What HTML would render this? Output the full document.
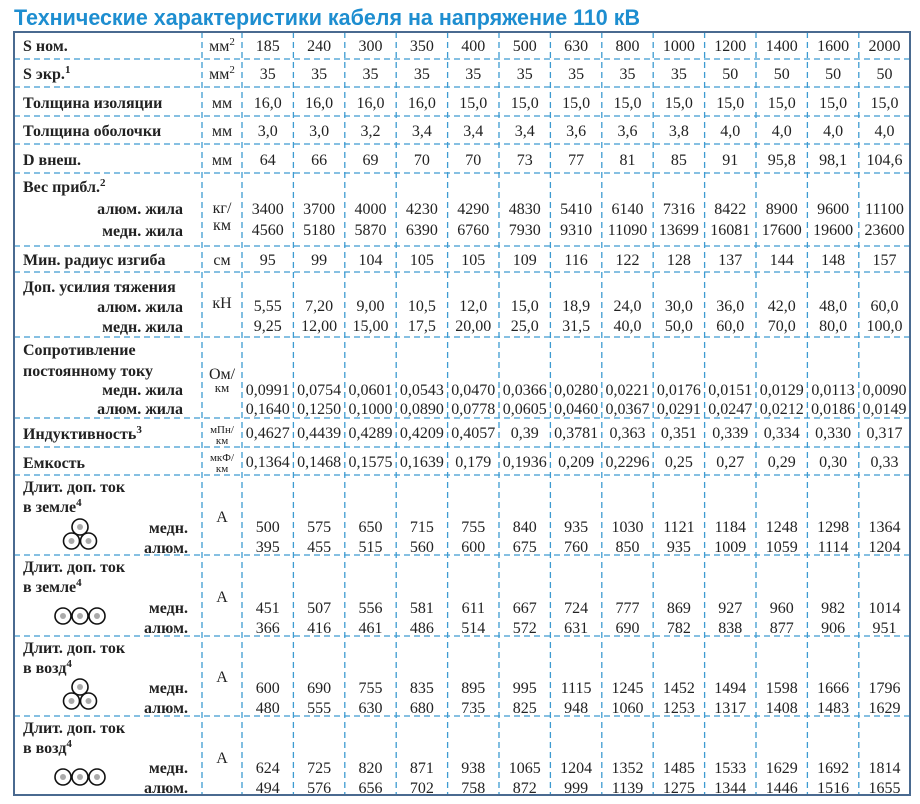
<!DOCTYPE html>
<html><head><meta charset="utf-8"><style>
html,body{margin:0;padding:0;background:#fff}
svg{display:block}
.t{font-family:"Liberation Serif",serif;font-size:16px;fill:#222}
.b{font-weight:bold}
.v tspan{text-anchor:middle}
.s{font-size:11px}
</style></head><body>
<svg width="920" height="804" viewBox="0 0 920 804" xmlns="http://www.w3.org/2000/svg">
<text x="14" y="25" font-family="Liberation Sans, sans-serif" font-weight="bold" font-size="22" fill="#1e8ed0" textLength="626" lengthAdjust="spacingAndGlyphs">Технические характеристики кабеля на напряжение 110 кВ</text>
<g stroke="#3d9bd1" stroke-width="1.3" stroke-dasharray="6 4" fill="none">
<path d="M202 32V795M242 32V795M293.4 32V795M344.8 32V795M396.2 32V795M447.6 32V795M499 32V795M550.4 32V795M601.8 32V795M653.2 32V795M704.6 32V795M756 32V795M807.4 32V795M858.8 32V795"/>
<path d="M14 59H910M14 87H910M14 116H910M14 144H910M14 173H910M14 246H910M14 272H910M14 337H910M14 418H910M14 447H910M14 475H910M14 555H910M14 636H910M14 716H910"/>
</g>
<rect x="14" y="32" width="896" height="763" fill="none" stroke="#4a6a90" stroke-width="2"/>

<g class="t b">
<text x="23" y="51">S ном.</text>
<text x="23" y="79">S экр.<tspan class="s" dy="-6">1</tspan></text>
<text x="23" y="108">Толщина изоляции</text>
<text x="23" y="136">Толщина оболочки</text>
<text x="23" y="165">D внеш.</text>
<text x="23" y="192">Вес прибл.<tspan class="s" dy="-6">2</tspan></text>
<text x="183" y="214" text-anchor="end">алюм. жила</text>
<text x="183" y="236" text-anchor="end">медн. жила</text>
<text x="23" y="265">Мин. радиус изгиба</text>
<text x="23" y="292">Доп. усилия тяжения</text>
<text x="183" y="312" text-anchor="end">алюм. жила</text>
<text x="183" y="332" text-anchor="end">медн. жила</text>
<text x="23" y="355">Сопротивление</text>
<text x="23" y="376">постоянному току</text>
<text x="183" y="395" text-anchor="end">медн. жила</text>
<text x="183" y="414" text-anchor="end">алюм. жила</text>
<text x="23" y="439">Индуктивность<tspan class="s" dy="-6">3</tspan></text>
<text x="23" y="468">Емкость</text>
<text x="23" y="492">Длит. доп. ток</text>
<text x="23" y="512">в земле<tspan class="s" dy="-6">4</tspan></text>
<text x="188" y="533" text-anchor="end">медн.</text>
<text x="188" y="553" text-anchor="end">алюм.</text>
<text x="23" y="572">Длит. доп. ток</text>
<text x="23" y="592">в земле<tspan class="s" dy="-6">4</tspan></text>
<text x="188" y="613" text-anchor="end">медн.</text>
<text x="188" y="633" text-anchor="end">алюм.</text>
<text x="23" y="653">Длит. доп. ток</text>
<text x="23" y="673">в возд<tspan class="s" dy="-6">4</tspan></text>
<text x="188" y="693" text-anchor="end">медн.</text>
<text x="188" y="713" text-anchor="end">алюм.</text>
<text x="23" y="733">Длит. доп. ток</text>
<text x="23" y="753">в возд<tspan class="s" dy="-6">4</tspan></text>
<text x="188" y="773" text-anchor="end">медн.</text>
<text x="188" y="793" text-anchor="end">алюм.</text>
</g>

<g class="t" text-anchor="middle">
<text x="222" y="51">мм<tspan class="s" dy="-6">2</tspan></text>
<text x="222" y="79">мм<tspan class="s" dy="-6">2</tspan></text>
<text x="222" y="108">мм</text>
<text x="222" y="136">мм</text>
<text x="222" y="165">мм</text>
<text x="222" y="213">кг/</text>
<text x="222" y="230">км</text>
<text x="222" y="265">см</text>
<text x="222" y="308">кН</text>
<text x="222" y="379">Ом/</text>
<text x="222" y="392" font-size="13">км</text>
<text x="222" y="433" font-size="11">мПн/</text>
<text x="222" y="444" font-size="11">км</text>
<text x="222" y="461" font-size="11">мкФ/</text>
<text x="222" y="472" font-size="11">км</text>
<text x="222" y="522">А</text>
<text x="222" y="602">А</text>
<text x="222" y="682">А</text>
<text x="222" y="763">А</text>
</g>

<g class="t v">
<text y="51"><tspan x="267.7">185</tspan><tspan x="319.1">240</tspan><tspan x="370.5">300</tspan><tspan x="421.9">350</tspan><tspan x="473.3">400</tspan><tspan x="524.7">500</tspan><tspan x="576.1">630</tspan><tspan x="627.5">800</tspan><tspan x="678.9">1000</tspan><tspan x="730.3">1200</tspan><tspan x="781.7">1400</tspan><tspan x="833.1">1600</tspan><tspan x="884.5">2000</tspan></text>
<text y="79"><tspan x="267.7">35</tspan><tspan x="319.1">35</tspan><tspan x="370.5">35</tspan><tspan x="421.9">35</tspan><tspan x="473.3">35</tspan><tspan x="524.7">35</tspan><tspan x="576.1">35</tspan><tspan x="627.5">35</tspan><tspan x="678.9">35</tspan><tspan x="730.3">50</tspan><tspan x="781.7">50</tspan><tspan x="833.1">50</tspan><tspan x="884.5">50</tspan></text>
<text y="108"><tspan x="267.7">16,0</tspan><tspan x="319.1">16,0</tspan><tspan x="370.5">16,0</tspan><tspan x="421.9">16,0</tspan><tspan x="473.3">15,0</tspan><tspan x="524.7">15,0</tspan><tspan x="576.1">15,0</tspan><tspan x="627.5">15,0</tspan><tspan x="678.9">15,0</tspan><tspan x="730.3">15,0</tspan><tspan x="781.7">15,0</tspan><tspan x="833.1">15,0</tspan><tspan x="884.5">15,0</tspan></text>
<text y="136"><tspan x="267.7">3,0</tspan><tspan x="319.1">3,0</tspan><tspan x="370.5">3,2</tspan><tspan x="421.9">3,4</tspan><tspan x="473.3">3,4</tspan><tspan x="524.7">3,4</tspan><tspan x="576.1">3,6</tspan><tspan x="627.5">3,6</tspan><tspan x="678.9">3,8</tspan><tspan x="730.3">4,0</tspan><tspan x="781.7">4,0</tspan><tspan x="833.1">4,0</tspan><tspan x="884.5">4,0</tspan></text>
<text y="165"><tspan x="267.7">64</tspan><tspan x="319.1">66</tspan><tspan x="370.5">69</tspan><tspan x="421.9">70</tspan><tspan x="473.3">70</tspan><tspan x="524.7">73</tspan><tspan x="576.1">77</tspan><tspan x="627.5">81</tspan><tspan x="678.9">85</tspan><tspan x="730.3">91</tspan><tspan x="781.7">95,8</tspan><tspan x="833.1">98,1</tspan><tspan x="884.5">104,6</tspan></text>
<text y="214"><tspan x="267.7">3400</tspan><tspan x="319.1">3700</tspan><tspan x="370.5">4000</tspan><tspan x="421.9">4230</tspan><tspan x="473.3">4290</tspan><tspan x="524.7">4830</tspan><tspan x="576.1">5410</tspan><tspan x="627.5">6140</tspan><tspan x="678.9">7316</tspan><tspan x="730.3">8422</tspan><tspan x="781.7">8900</tspan><tspan x="833.1">9600</tspan><tspan x="884.5">11100</tspan></text>
<text y="235"><tspan x="267.7">4560</tspan><tspan x="319.1">5180</tspan><tspan x="370.5">5870</tspan><tspan x="421.9">6390</tspan><tspan x="473.3">6760</tspan><tspan x="524.7">7930</tspan><tspan x="576.1">9310</tspan><tspan x="627.5">11090</tspan><tspan x="678.9">13699</tspan><tspan x="730.3">16081</tspan><tspan x="781.7">17600</tspan><tspan x="833.1">19600</tspan><tspan x="884.5">23600</tspan></text>
<text y="265"><tspan x="267.7">95</tspan><tspan x="319.1">99</tspan><tspan x="370.5">104</tspan><tspan x="421.9">105</tspan><tspan x="473.3">105</tspan><tspan x="524.7">109</tspan><tspan x="576.1">116</tspan><tspan x="627.5">122</tspan><tspan x="678.9">128</tspan><tspan x="730.3">137</tspan><tspan x="781.7">144</tspan><tspan x="833.1">148</tspan><tspan x="884.5">157</tspan></text>
<text y="311"><tspan x="267.7">5,55</tspan><tspan x="319.1">7,20</tspan><tspan x="370.5">9,00</tspan><tspan x="421.9">10,5</tspan><tspan x="473.3">12,0</tspan><tspan x="524.7">15,0</tspan><tspan x="576.1">18,9</tspan><tspan x="627.5">24,0</tspan><tspan x="678.9">30,0</tspan><tspan x="730.3">36,0</tspan><tspan x="781.7">42,0</tspan><tspan x="833.1">48,0</tspan><tspan x="884.5">60,0</tspan></text>
<text y="331"><tspan x="267.7">9,25</tspan><tspan x="319.1">12,00</tspan><tspan x="370.5">15,00</tspan><tspan x="421.9">17,5</tspan><tspan x="473.3">20,00</tspan><tspan x="524.7">25,0</tspan><tspan x="576.1">31,5</tspan><tspan x="627.5">40,0</tspan><tspan x="678.9">50,0</tspan><tspan x="730.3">60,0</tspan><tspan x="781.7">70,0</tspan><tspan x="833.1">80,0</tspan><tspan x="884.5">100,0</tspan></text>
<text y="395"><tspan x="267.7">0,0991</tspan><tspan x="319.1">0,0754</tspan><tspan x="370.5">0,0601</tspan><tspan x="421.9">0,0543</tspan><tspan x="473.3">0,0470</tspan><tspan x="524.7">0,0366</tspan><tspan x="576.1">0,0280</tspan><tspan x="627.5">0,0221</tspan><tspan x="678.9">0,0176</tspan><tspan x="730.3">0,0151</tspan><tspan x="781.7">0,0129</tspan><tspan x="833.1">0,0113</tspan><tspan x="884.5">0,0090</tspan></text>
<text y="414"><tspan x="267.7">0,1640</tspan><tspan x="319.1">0,1250</tspan><tspan x="370.5">0,1000</tspan><tspan x="421.9">0,0890</tspan><tspan x="473.3">0,0778</tspan><tspan x="524.7">0,0605</tspan><tspan x="576.1">0,0460</tspan><tspan x="627.5">0,0367</tspan><tspan x="678.9">0,0291</tspan><tspan x="730.3">0,0247</tspan><tspan x="781.7">0,0212</tspan><tspan x="833.1">0,0186</tspan><tspan x="884.5">0,0149</tspan></text>
<text y="438"><tspan x="267.7">0,4627</tspan><tspan x="319.1">0,4439</tspan><tspan x="370.5">0,4289</tspan><tspan x="421.9">0,4209</tspan><tspan x="473.3">0,4057</tspan><tspan x="524.7">0,39</tspan><tspan x="576.1">0,3781</tspan><tspan x="627.5">0,363</tspan><tspan x="678.9">0,351</tspan><tspan x="730.3">0,339</tspan><tspan x="781.7">0,334</tspan><tspan x="833.1">0,330</tspan><tspan x="884.5">0,317</tspan></text>
<text y="467"><tspan x="267.7">0,1364</tspan><tspan x="319.1">0,1468</tspan><tspan x="370.5">0,1575</tspan><tspan x="421.9">0,1639</tspan><tspan x="473.3">0,179</tspan><tspan x="524.7">0,1936</tspan><tspan x="576.1">0,209</tspan><tspan x="627.5">0,2296</tspan><tspan x="678.9">0,25</tspan><tspan x="730.3">0,27</tspan><tspan x="781.7">0,29</tspan><tspan x="833.1">0,30</tspan><tspan x="884.5">0,33</tspan></text>
<text y="532"><tspan x="267.7">500</tspan><tspan x="319.1">575</tspan><tspan x="370.5">650</tspan><tspan x="421.9">715</tspan><tspan x="473.3">755</tspan><tspan x="524.7">840</tspan><tspan x="576.1">935</tspan><tspan x="627.5">1030</tspan><tspan x="678.9">1121</tspan><tspan x="730.3">1184</tspan><tspan x="781.7">1248</tspan><tspan x="833.1">1298</tspan><tspan x="884.5">1364</tspan></text>
<text y="552"><tspan x="267.7">395</tspan><tspan x="319.1">455</tspan><tspan x="370.5">515</tspan><tspan x="421.9">560</tspan><tspan x="473.3">600</tspan><tspan x="524.7">675</tspan><tspan x="576.1">760</tspan><tspan x="627.5">850</tspan><tspan x="678.9">935</tspan><tspan x="730.3">1009</tspan><tspan x="781.7">1059</tspan><tspan x="833.1">1114</tspan><tspan x="884.5">1204</tspan></text>
<text y="613"><tspan x="267.7">451</tspan><tspan x="319.1">507</tspan><tspan x="370.5">556</tspan><tspan x="421.9">581</tspan><tspan x="473.3">611</tspan><tspan x="524.7">667</tspan><tspan x="576.1">724</tspan><tspan x="627.5">777</tspan><tspan x="678.9">869</tspan><tspan x="730.3">927</tspan><tspan x="781.7">960</tspan><tspan x="833.1">982</tspan><tspan x="884.5">1014</tspan></text>
<text y="633"><tspan x="267.7">366</tspan><tspan x="319.1">416</tspan><tspan x="370.5">461</tspan><tspan x="421.9">486</tspan><tspan x="473.3">514</tspan><tspan x="524.7">572</tspan><tspan x="576.1">631</tspan><tspan x="627.5">690</tspan><tspan x="678.9">782</tspan><tspan x="730.3">838</tspan><tspan x="781.7">877</tspan><tspan x="833.1">906</tspan><tspan x="884.5">951</tspan></text>
<text y="693"><tspan x="267.7">600</tspan><tspan x="319.1">690</tspan><tspan x="370.5">755</tspan><tspan x="421.9">835</tspan><tspan x="473.3">895</tspan><tspan x="524.7">995</tspan><tspan x="576.1">1115</tspan><tspan x="627.5">1245</tspan><tspan x="678.9">1452</tspan><tspan x="730.3">1494</tspan><tspan x="781.7">1598</tspan><tspan x="833.1">1666</tspan><tspan x="884.5">1796</tspan></text>
<text y="713"><tspan x="267.7">480</tspan><tspan x="319.1">555</tspan><tspan x="370.5">630</tspan><tspan x="421.9">680</tspan><tspan x="473.3">735</tspan><tspan x="524.7">825</tspan><tspan x="576.1">948</tspan><tspan x="627.5">1060</tspan><tspan x="678.9">1253</tspan><tspan x="730.3">1317</tspan><tspan x="781.7">1408</tspan><tspan x="833.1">1483</tspan><tspan x="884.5">1629</tspan></text>
<text y="773"><tspan x="267.7">624</tspan><tspan x="319.1">725</tspan><tspan x="370.5">820</tspan><tspan x="421.9">871</tspan><tspan x="473.3">938</tspan><tspan x="524.7">1065</tspan><tspan x="576.1">1204</tspan><tspan x="627.5">1352</tspan><tspan x="678.9">1485</tspan><tspan x="730.3">1533</tspan><tspan x="781.7">1629</tspan><tspan x="833.1">1692</tspan><tspan x="884.5">1814</tspan></text>
<text y="793"><tspan x="267.7">494</tspan><tspan x="319.1">576</tspan><tspan x="370.5">656</tspan><tspan x="421.9">702</tspan><tspan x="473.3">758</tspan><tspan x="524.7">872</tspan><tspan x="576.1">999</tspan><tspan x="627.5">1139</tspan><tspan x="678.9">1275</tspan><tspan x="730.3">1344</tspan><tspan x="781.7">1446</tspan><tspan x="833.1">1516</tspan><tspan x="884.5">1655</tspan></text>
</g>

<g stroke="#111" stroke-width="1.6" fill="#fff">
<circle cx="80" cy="527" r="8"/><circle cx="71.5" cy="541" r="8"/><circle cx="88.5" cy="541" r="8"/>
<circle cx="63" cy="616" r="8"/><circle cx="80" cy="616" r="8"/><circle cx="97" cy="616" r="8"/>
<circle cx="80" cy="687" r="8"/><circle cx="71.5" cy="701" r="8"/><circle cx="88.5" cy="701" r="8"/>
<circle cx="63" cy="777" r="8"/><circle cx="80" cy="777" r="8"/><circle cx="97" cy="777" r="8"/>
</g>
<g fill="#aaa">
<circle cx="80" cy="527" r="3"/><circle cx="71.5" cy="541" r="3"/><circle cx="88.5" cy="541" r="3"/>
<circle cx="63" cy="616" r="3"/><circle cx="80" cy="616" r="3"/><circle cx="97" cy="616" r="3"/>
<circle cx="80" cy="687" r="3"/><circle cx="71.5" cy="701" r="3"/><circle cx="88.5" cy="701" r="3"/>
<circle cx="63" cy="777" r="3"/><circle cx="80" cy="777" r="3"/><circle cx="97" cy="777" r="3"/>
</g>
</svg>
</body></html>
